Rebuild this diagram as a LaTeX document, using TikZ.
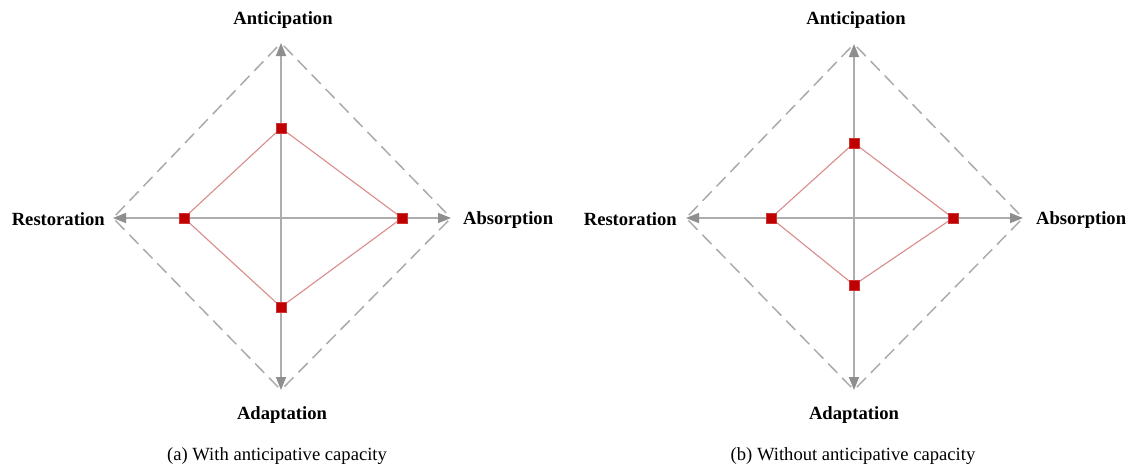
\documentclass[tikz,border=0pt]{standalone}
\usepackage{fontspec}
\setmainfont{Liberation Serif}
\usetikzlibrary{arrows.meta}
\definecolor{axisgray}{HTML}{ADADAD}
\definecolor{tipgray}{HTML}{8E8E8E}
\definecolor{dashgray}{HTML}{ABABAB}
\definecolor{polyred}{HTML}{DA8C8C}
\definecolor{markred}{HTML}{C00000}
\begin{document}
\begin{tikzpicture}[x=1pt,y=-1pt,
  axisline/.style={draw=axisgray,line width=1.7pt,
    {Triangle[length=13pt,width=10pt,color=tipgray]}-{Triangle[length=13pt,width=10pt,color=tipgray]}},
  dashline/.style={draw=dashgray,line width=1.5pt,dash pattern=on 13pt off 7pt,dash phase=-4pt},
  polyline/.style={draw=polyred,line width=1.1pt},
  sq/.style={rectangle,fill=markred,draw=markred!80!white,line width=0.4pt,minimum size=10pt,inner sep=0pt},
  lbl/.style={font=\bfseries\fontsize{18.6}{20}\selectfont,inner sep=0pt},
  captext/.style={font=\fontsize{18.6}{20}\selectfont,inner sep=0pt}]
\useasboundingbox[fill=white] (0,0) rectangle (1130,467);

% ---------- (a) ----------
\coordinate (aT) at (281,43);
\coordinate (aB) at (281,390);
\coordinate (aL) at (113,218);
\coordinate (aR) at (451,218);
\draw[dashline] (aT) -- (aR);
\draw[dashline] (aR) -- (aB);
\draw[dashline] (aB) -- (aL);
\draw[dashline] (aL) -- (aT);
\draw[axisline] (aL) -- (aR);
\draw[axisline] (aT) -- (aB);
\coordinate (ap1) at (281,128);
\coordinate (ap2) at (402,218);
\coordinate (ap3) at (281,307);
\coordinate (ap4) at (184,218);
\draw[polyline] (ap1) -- (ap2) -- (ap3) -- (ap4) -- cycle;
\node[sq] (aq1) at (ap1) {};
\node[sq] (aq2) at (ap2) {};
\node[sq] (aq3) at (ap3) {};
\node[sq] (aq4) at (ap4) {};
\node[lbl] (aAnt) at (283,20.5) {Anticipation};
\node[lbl] (aAda) at (282,415.5) {Adaptation};
\node[lbl,anchor=east] (aRes) at (105,219) {Restoration};
\node[lbl,anchor=west] (aAbs) at (463,220.5) {Absorption};
\node[captext] (aCap) at (277,456.5) {(a) With anticipative capacity};

% ---------- (b) ----------
\coordinate (bT) at (854,44);
\coordinate (bB) at (854,390);
\coordinate (bL) at (686,218);
\coordinate (bR) at (1023,218);
\draw[dashline] (bT) -- (bR);
\draw[dashline] (bR) -- (bB);
\draw[dashline] (bB) -- (bL);
\draw[dashline] (bL) -- (bT);
\draw[axisline] (bL) -- (bR);
\draw[axisline] (bT) -- (bB);
\coordinate (bp1) at (854,143);
\coordinate (bp2) at (953,218);
\coordinate (bp3) at (854,285);
\coordinate (bp4) at (771,218);
\draw[polyline] (bp1) -- (bp2) -- (bp3) -- (bp4) -- cycle;
\node[sq] (bq1) at (bp1) {};
\node[sq] (bq2) at (bp2) {};
\node[sq] (bq3) at (bp3) {};
\node[sq] (bq4) at (bp4) {};
\node[lbl] (bAnt) at (856,20.5) {Anticipation};
\node[lbl] (bAda) at (854,415.5) {Adaptation};
\node[lbl,anchor=east] (bRes) at (677,219) {Restoration};
\node[lbl,anchor=west] (bAbs) at (1036,220.5) {Absorption};
\node[captext] (bCap) at (853,456.5) {(b) Without anticipative capacity};
\end{tikzpicture}
\end{document}
